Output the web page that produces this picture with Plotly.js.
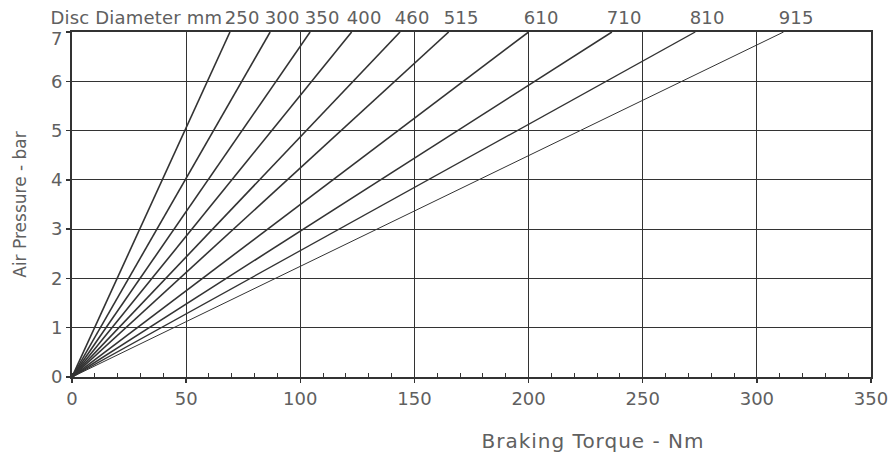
<!DOCTYPE html>
<html>
<head>
<meta charset="utf-8">
<script src="https://cdn.plot.ly/plotly-3.0.1.min.js"></script>
<style>
html,body{margin:0;padding:0;background:#fff;}
#chart{width:895px;height:452px;}
#chart text.annotation-text{letter-spacing:0.2px;}
#chart g.annotation[data-index="11"] text.annotation-text{letter-spacing:1px;}
#chart g.annotation[data-index="12"] text.annotation-text{letter-spacing:0;}
</style>
</head>
<body>
<div id="chart"></div>
<script>
// Disc diameters (mm) and braking torque (Nm) reached at 7 bar
const diameters = [250, 300, 350, 400, 460, 515, 610, 710, 810, 915];
const torqueAt7bar = [69.2, 86.8, 104.3, 122.5, 143.7, 165, 200, 236.5, 273, 311.7];
const pressureRange = [0, 7];
const xTicks = [0, 50, 100, 150, 200, 250, 300, 350];
const yTicks = [0, 1, 2, 3, 4, 5, 6, 7];

const FONT = '"DejaVu Sans", "Liberation Sans", Arial, sans-serif';
const TXT = '#606060';
const INK = '#333333';
const W = 400;

const traces = diameters.map((d, i) => ({
  type: 'scatter',
  mode: 'lines',
  x: [0, torqueAt7bar[i]],
  y: [pressureRange[0], pressureRange[1]],
  name: d + ' mm',
  line: {color: INK, width: i === diameters.length - 1 ? 1 : (i === diameters.length - 2 ? 1.3 : 1.6)},
  hoverinfo: 'skip',
  showlegend: false
}));

const topY = yTicks[yTicks.length - 1];
const annotations = [];
annotations.push({
  xref: 'x', yref: 'paper', x: torqueAt7bar[0], y: 1,
  xanchor: 'right', yanchor: 'bottom', yshift: 2, xshift: -7,
  text: 'Disc Diameter mm', showarrow: false,
  font: {family: FONT, size: 18, color: TXT, weight: W}
});
diameters.forEach((d, i) => {
  annotations.push({
    xref: 'x', yref: 'paper', x: torqueAt7bar[i], y: 1,
    xanchor: 'center', yanchor: 'bottom', yshift: 2, xshift: 12,
    text: String(d), showarrow: false,
    font: {family: FONT, size: 18, color: TXT, weight: W}
  });
});
annotations.push({
  xref: 'paper', yref: 'paper', x: 0.652, y: 0, yshift: -64,
  xanchor: 'center', yanchor: 'middle',
  text: 'Braking Torque - Nm', showarrow: false,
  font: {family: FONT, size: 20, color: TXT, weight: W}
});
// top y tick label, nudged down below the diameter caption as in the reference
annotations.push({
  xref: 'paper', yref: 'y', x: 0, y: topY, xshift: -8, yshift: -6,
  xanchor: 'right', yanchor: 'middle',
  text: String(topY), showarrow: false,
  font: {family: FONT, size: 18, color: TXT, weight: W}
});

const layout = {
  width: 895, height: 452,
  margin: {l: 72, r: 24, t: 32, b: 75},
  paper_bgcolor: '#ffffff', plot_bgcolor: '#ffffff',
  font: {family: FONT, size: 18, color: TXT, weight: W},
  xaxis: {
    range: [0, 350], tickvals: xTicks, ticktext: xTicks.map(String),
    showgrid: true, gridcolor: INK, gridwidth: 1.2,
    zeroline: false, showline: true, linecolor: INK, linewidth: 2, mirror: true,
    ticks: 'outside', ticklen: 4, tickcolor: INK, tickwidth: 1.5,
    minor: {dtick: 10, ticks: 'inside', ticklen: 4, tickcolor: INK, tickwidth: 1, showgrid: false},
    tickfont: {family: FONT, size: 18, color: TXT, weight: W},
    fixedrange: true
  },
  yaxis: {
    range: [0, 7], tickvals: yTicks, ticktext: yTicks.map(v => v === topY ? '' : String(v)),
    showgrid: true, gridcolor: INK, gridwidth: 1.2,
    zeroline: false, showline: true, linecolor: INK, linewidth: 2, mirror: true,
    ticks: 'outside', ticklen: 4, tickcolor: INK, tickwidth: 1.5,
    tickfont: {family: FONT, size: 18, color: TXT, weight: W},
    title: {text: 'Air Pressure - bar', standoff: 20, font: {family: FONT, size: 17, color: TXT, weight: W}},
    fixedrange: true
  },
  annotations: annotations,
  showlegend: false
};

Plotly.newPlot('chart', traces, layout, {displayModeBar: false, staticPlot: true});
</script>
</body>
</html>
